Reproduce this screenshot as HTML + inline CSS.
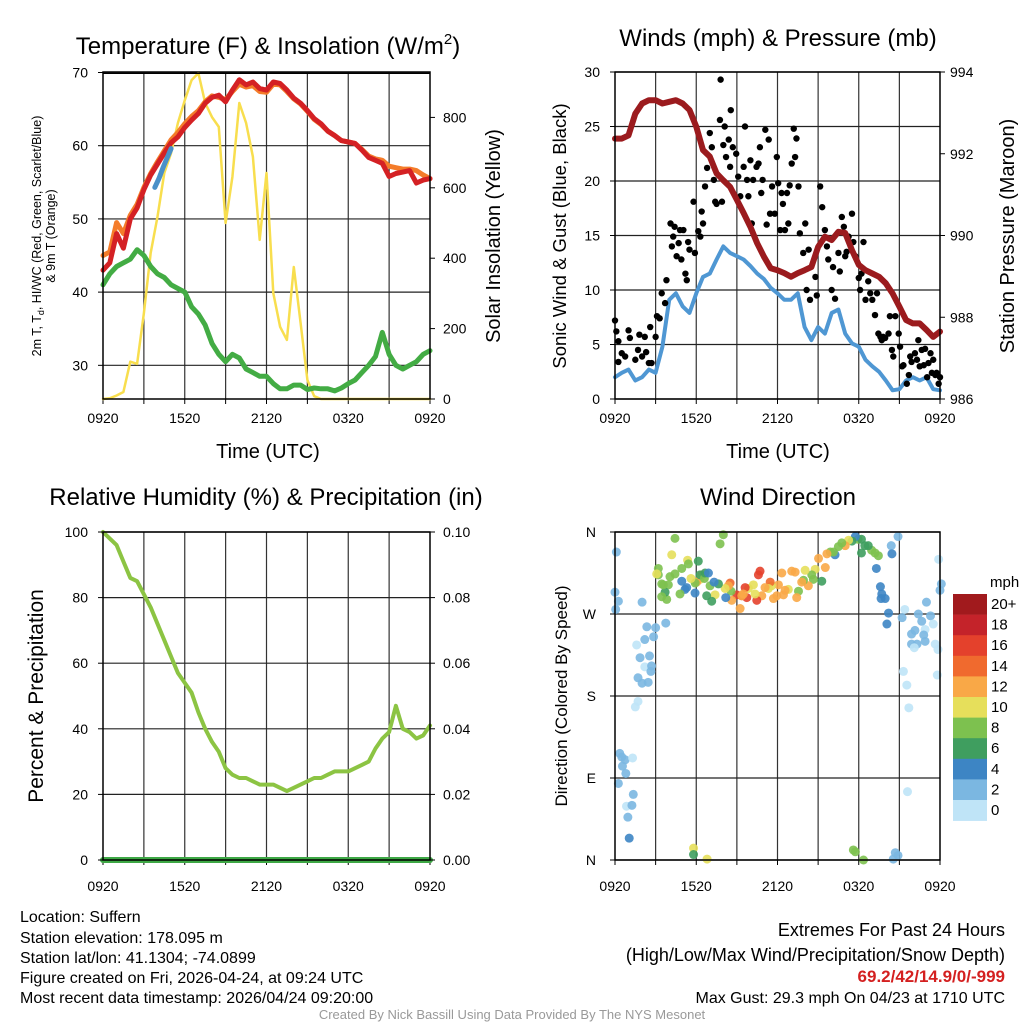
<!DOCTYPE html>
<html><head><meta charset="utf-8"><style>
html,body{margin:0;padding:0;background:#fff;}
svg{display:block;font-family:"Liberation Sans",sans-serif;}
</style></head><body>
<svg id="fig" width="1024" height="1024" viewBox="0 0 1024 1024" xmlns="http://www.w3.org/2000/svg">
<rect width="1024" height="1024" fill="#fff"/>
<g id="layer"></g>
<text x="268" y="54" font-size="24" text-anchor="middle">Temperature (F) &amp; Insolation (W/m<tspan font-size="15" dy="-10">2</tspan><tspan dy="10">)</tspan></text>
<text x="778" y="46" font-size="24" text-anchor="middle">Winds (mph) &amp; Pressure (mb)</text>
<text x="266" y="505" font-size="24" text-anchor="middle">Relative Humidity (%) &amp; Precipitation (in)</text>
<text x="778" y="505" font-size="24" text-anchor="middle">Wind Direction</text>
<text x="268" y="458" font-size="20" text-anchor="middle">Time (UTC)</text>
<text x="778" y="458" font-size="20" text-anchor="middle">Time (UTC)</text>
<g font-size="12.5" text-anchor="middle">
<text transform="translate(41,236) rotate(-90)">2m T, T<tspan font-size="9" dy="3">d</tspan><tspan dy="-3">, HI/WC (Red, Green, Scarlet/Blue)</tspan></text>
<text transform="translate(55,236) rotate(-90)">&amp; 9m T (Orange)</text>
</g>
<text transform="translate(500,236) rotate(-90)" font-size="20" text-anchor="middle">Solar Insolation (Yellow)</text>
<text transform="translate(566,236) rotate(-90)" font-size="18.5" text-anchor="middle">Sonic Wind &amp; Gust (Blue, Black)</text>
<text transform="translate(1014,236) rotate(-90)" font-size="20" text-anchor="middle">Station Pressure (Maroon)</text>
<text transform="translate(43,696) rotate(-90)" font-size="21" text-anchor="middle">Percent &amp; Precipitation</text>
<text transform="translate(567,696) rotate(-90)" font-size="17" text-anchor="middle">Direction (Colored By Speed)</text>
<text x="990" y="587" font-size="15">mph</text>
<g font-size="16">
<text x="20" y="922">Location: Suffern</text>
<text x="20" y="943">Station elevation: 178.095 m</text>
<text x="20" y="963">Station lat/lon: 41.1304; -74.0899</text>
<text x="20" y="983">Figure created on Fri, 2026-04-24, at 09:24 UTC</text>
<text x="20" y="1003">Most recent data timestamp: 2026/04/24 09:20:00</text>
</g>
<g font-size="18" text-anchor="end">
<text x="1005" y="936">Extremes For Past 24 Hours</text>
<text x="1005" y="961">(High/Low/Max Wind/Precipitation/Snow Depth)</text>
<text x="1005" y="982" fill="#d42020" font-weight="bold" font-size="17">69.2/42/14.9/0/-999</text>
<text x="1005" y="1003" font-size="16">Max Gust: 29.3 mph On 04/23 at 1710 UTC</text>
</g>
<text x="512" y="1019" font-size="13" fill="#999" text-anchor="middle">Created By Nick Bassill Using Data Provided By The NYS Mesonet</text>
</svg>
<script>
// ---- data (hours since 0920 UTC, half-hour steps) ----
const hours = [0,0.5,1,1.5,2,2.5,3,3.5,4,4.5,5,5.5,6,6.5,7,7.5,8,8.5,9,9.5,10,10.5,11,11.5,12,12.5,13,13.5,14,14.5,15,15.5,16,16.5,17,17.5,18,18.5,19,19.5,20,20.5,21,21.5,22,22.5,23,23.5,24];
const xTickLabels = ["0920","1520","2120","0320","0920"];
const tempF = [43,44,48,46,50,51.5,54,56,57.5,59,60.4,61.2,62.5,63.5,64.4,65.8,66.6,66.9,66,67.6,69,68.3,68.7,67.8,67.6,68.7,68.5,67.6,66.5,65.8,64.8,63.7,63,62,61.4,60.7,60.5,60.3,59.4,58.4,58,57.6,55.8,56.2,56.4,56.6,54.9,55.3,55.5];
const temp9mF = [45,45.5,49.5,48,50.5,52,54.3,56.2,57.8,59.3,60.8,61.8,63,64,64.8,66,66.8,66.6,66.3,67.4,68.4,68,68.2,67.4,67.3,68.4,68.3,67.4,66.4,65.7,64.7,63.6,62.9,62,61.4,60.7,60.5,60.3,59.5,58.6,58.2,58,57.2,57,56.8,56.8,56.6,56,55.5];
const blueHours = [3.8,4.1,4.4,4.7,5.0];
const blueTemp = [54.3,55.5,57,58.3,59.6];
const dewF = [41,42.5,43.5,44,44.5,45.8,45,43.5,42.5,42,41,40.5,40,38,37,35.5,33,31.5,30.5,31.5,31,29.5,29,28.5,28.5,27.5,26.8,26.8,27.3,27.3,26.7,26.9,26.8,26.8,26.5,26.9,27.5,28,29,30,31.2,34.5,31.5,30,29.5,30,30.5,31.5,32];
const solar = [0,2,10,20,106,100,244,415,518,642,699,784,849,906,926,841,801,773,500,631,841,784,688,452,642,301,205,168,375,216,54,8,0,0,0,0,0,0,0,0,0,0,0,0,0,0,0,0,0];
const tempTicks = [30,40,50,60,70];
const solarTicks = [0,200,400,600,800];
const windMph = [2.0,2.4,2.7,1.7,2.0,2.7,2.4,4.8,9.1,9.7,8.5,7.9,9.7,11.2,11.5,12.8,14,13.4,13.1,12.8,12.2,11.5,11,10.2,9.7,9.1,9.1,9.7,6.6,5.4,6.6,6.0,7.9,8.2,6.0,5.1,4.8,3.6,3.0,2.5,1.7,0.8,0.9,1.7,2.0,1.7,2.0,0.9,0.8];
const pressureMb = [992.37,992.37,992.45,992.98,993.23,993.31,993.31,993.23,993.27,993.31,993.23,993.07,992.66,992.09,991.93,991.52,991.35,991.19,990.87,990.55,990.21,989.81,989.48,989.2,989.15,989.08,988.99,989.08,989.15,989.23,989.72,989.97,989.89,990.09,990.06,989.64,989.28,989.15,989.07,988.99,988.83,988.58,988.26,987.93,987.85,987.85,987.69,987.52,987.65];
const gustHours = [0,0.1,0.25,0.25,0.5,0.75,1,1.1,1.5,1.7,1.8,2,2.2,2.3,2.5,2.6,2.7,3,3.1,3.3,3.45,3.7,3.8,4.1,4.2,4.3,4.4,4.55,4.7,4.8,4.9,5.05,5.2,5.3,5.4,5.5,5.8,5.9,6.15,6.3,6.4,6.5,6.65,6.8,7,7.15,7.3,7.4,7.5,7.75,7.8,7.9,8,8.1,8.2,8.4,8.5,8.55,8.7,8.95,9.1,9.25,9.5,9.6,9.75,9.85,10,10.1,10.2,10.45,10.6,10.7,10.8,10.9,11.1,11.2,11.35,11.45,11.6,11.8,11.95,12.05,12.2,12.3,12.4,12.55,12.7,12.8,12.9,13.05,13.2,13.3,13.4,13.55,13.65,13.9,14.05,14.15,14.3,14.4,14.8,14.9,15.15,15.3,15.5,15.65,15.75,16,16.1,16.25,16.5,16.6,16.75,16.9,17,17.1,17.25,17.5,17.6,17.75,18,18.1,18.2,18.35,18.5,18.7,18.85,19,19.2,19.35,19.45,19.6,19.7,19.8,19.95,20.2,20.3,20.45,20.55,20.7,20.95,21.05,21.2,21.3,21.55,21.7,21.8,21.9,22.15,22.3,22.4,22.5,22.65,22.8,22.9,23.05,23.15,23.3,23.4,23.5,23.65,23.75,23.9,24];
const gustMph = [7.2,6.2,5.3,3.4,4.2,3.9,6.3,5.6,3.6,4.5,5.9,3.9,5.7,4.3,3.3,6.6,3.3,5.7,7.6,7.4,9.7,8.8,10.9,16.1,14,14.9,15.8,13.1,14.3,15.5,12.8,15.5,11.5,10.9,14.4,13.7,18.1,13.4,15.4,14.9,17.2,16.1,19.5,21.2,24.4,23.1,20.1,18.1,17.9,25.6,29.3,18.1,23.3,25,22.2,23.8,21.3,26.5,23.1,22.5,20.4,18.6,21.3,25,20.1,18.6,21.9,16.1,20.1,21.3,21.6,23.1,18.9,20.1,24.7,16,23.8,17,19.5,17,22.2,19.8,15.5,18.9,17.9,15.5,18.9,16.1,19.6,21.6,24.8,22.2,23.9,19.5,15.2,13.4,16.1,10,13.7,9.1,11.2,9.5,19.5,17.6,15.5,14,12.8,10,12.1,9.2,13.4,11.7,16.7,15.8,13.1,13.5,14.9,17,14.4,13.1,11.1,10,11.5,14.4,9.1,10.8,9.7,9.1,7.7,9.7,6,5.7,5.4,5.7,5.6,6,7.6,4.5,3.9,7.6,6,4.8,3,3.1,1.4,2.2,3.9,3.4,4.2,3.6,5.4,3,4.5,3.1,4.6,2,3.3,4.2,2.4,3.6,2.2,2.4,1.4,2];
const windTicks = [0,5,10,15,20,25,30];
const pressTicks = [986,988,990,992,994];
const rhPct = [100,98,96,91,86,85,81,77,72,67,62,57,54,51,45,40,36,33,28,26,25,25,24,23,23,23,22,21,22,23,24,25,25,26,27,27,27,28,29,30,34,37,39,47,40,39,37,38,41];
const precipIn = [0,0,0,0,0,0,0,0,0,0,0,0,0,0,0,0,0,0,0,0,0,0,0,0,0,0,0,0,0,0,0,0,0,0,0,0,0,0,0,0,0,0,0,0,0,0,0,0,0];
const rhTicks = [0,20,40,60,80,100];
const precipTicks = ["0.00","0.02","0.04","0.06","0.08","0.10"];
const dirHours = [0.1,0,0.25,0.05,2,2.35,3,3.75,1.6,2.2,2.85,1.85,2.55,2.2,2.7,2.65,1.7,2,2.45,1.7,1.5,0.35,0.5,0.75,0.55,0.8,1.3,0.25,1.35,0.85,1.25,0.95,1.05,5.8,5.8,6.8,17.6,17.75,18.35,20.7,20.9,20.55,21.6,21.7,21.55,21.3,21.9,22.3,22.1,22.9,23.65,23.85,23.8,22.4,21.4,21.2,23.0,23.3,22.65,22.15,22.9,23.5,23.9,24.1,24.0,22.8,21.9,20.9,20.4,20.45,20.2,20.08,19.6,19.7,19.95,19.65,19.3,19.45,19.2,18.95,18.7,18.2,17.95,18.45,18.2,17.75,17.5,17.25,17,16.75,16.25,16.13,16.5,15.9,15.65,15.53,15.27,15.03,14.65,14.78,14.53,14.28,14.04,13.92,13.79,13.55,13.42,13.3,13.05,12.8,12.56,12.44,12.32,12.07,11.95,11.7,11.56,11.46,11.33,11.08,10.84,10.71,10.59,10.47,10.34,10.22,9.85,9.73,9.61,9.36,9.24,8.99,9.48,9.36,8.62,8.57,8.5,8.37,8.13,8.0,7.76,7.64,7.39,7.14,7.02,6.77,6.4,6.28,6.03,6.28,6.15,5.92,6.6,6.65,6.9,7.32,8.18,5.91,5.17,5.29,5.61,5.36,4.93,4.8,4.43,4.19,4.06,3.82,3.94,3.7,3.45,3.2,3.2,3.08,3.45,3.57,4.43,4.93,5.42];
const dirDeg = [338,294,284,275,283,256,255,260,236,242,245,222,224,212,213,207,200,194,195,174,168,117,113,110,103,95,112,84,72,59,60,47,24,13,6,1,11,9,0,8,5,1,75,167,192,207,237,237,233,240,237,231,203,270,275,266,283,268,262,252,253,259,330,303,296,247,248,355,345,336,271,259,300,292,287,287,320,334,337,340,345,337,352,345,352,355,350,351,345,348,335,338,344,338,336,321,306,331,308,319,313,301,318,307,305,295,288,316,317,297,296,291,315,302,290,287,301,305,298,299,290,317,313,285,292,302,298,288,299,290,276,291,292,290,285,295,304,301,298,357,347,303,291,284,301,290,313,308,305,313,328,304,309,315,315,305,288,293,297,299,309,329,306,292,353,335,311,286,302,294,303,313,320,314,289,302,314,320,325,322];
const dirSpeed = [3,3,3,3,3,3,3,3,1,3,3,3,3,1,3,3,3,3,3,1,1,3,3,3,3,3,1,3,3,1,3,3,5,11,7,11,9,9,9,3,3,3,1,1,1,1,3,3,1,3,1,1,1,3,1,3,3,3,3,3,1,1,1,3,3,3,3,3,3,5,5,5,5,5,5,5,5,9,9,9,7,7,9,7,7,5,7,11,13,9,5,9,9,9,13,13,7,13,9,11,9,13,11,9,13,9,13,13,13,11,13,13,13,13,13,13,11,15,11,13,13,17,17,17,11,11,11,17,17,17,13,17,13,13,13,9,15,13,11,9,9,7,11,7,9,7,13,11,13,7,7,9,9,7,5,5,5,5,5,5,11,11,5,9,9,11,9,9,9,7,9,9,9,11,9,9,9,9,9,9];
const cbLabels = ["20+","18","16","14","12","10","8","6","4","2","0"];
const cbColors = ["#a11a1d","#c4232a","#e4412c","#f06a2e","#f9a847","#e6df5b","#7dc14f","#3f9e5f","#3d85c4","#7bb7e1","#bfe4f7"];

// ---- drawing ----
const NS="http://www.w3.org/2000/svg";
const layer=document.getElementById('layer');
function mk(tag,attrs,parent){const e=document.createElementNS(NS,tag);for(const k in attrs)e.setAttribute(k,attrs[k]);(parent||layer).appendChild(e);return e;}
function lin(d0,d1,r0,r1){return v=>r0+(v-d0)*(r1-r0)/(d1-d0);}
function pathD(xs,ys,fx,fy){return xs.map((x,i)=>(i?'L':'M')+fx(x).toFixed(1)+','+fy(ys[i]).toFixed(1)).join('');}

function frame(L,T,R,B,name,yGrid,xLabY){
  const g=mk('g',{});
  
  
  const fx=lin(0,24,L,R);
  for(let h=3;h<24;h+=3){const l=mk('line',{x1:fx(h),x2:fx(h),y1:T,y2:B,stroke:'#333','stroke-width':1.2},g);
    
    }
  for(let h=0;h<=24;h+=3){mk('line',{x1:fx(h),x2:fx(h),y1:B,y2:B+5,stroke:'#000','stroke-width':1},g);}
  yGrid.forEach(y=>{const l=mk('line',{x1:L,x2:R,y1:y,y2:y,stroke:'#222','stroke-width':1.2},g);
    
    });
  xTickLabels.forEach((s,i)=>{const t=mk('text',{x:fx(i*6),y:xLabY,'font-size':14,'text-anchor':'middle'},g);t.textContent=s;
    
    });
  return {fx,g};
}
function border(L,T,R,B,name){const r=mk('rect',{x:L,y:T,width:R-L,height:B-T,fill:'none',stroke:'#000','stroke-width':1.5});
  
  }
function yTicks(vals,labels,fy,x,anchor,tx0,tx1,name){
  vals.forEach((v,i)=>{mk('line',{x1:tx0,x2:tx1,y1:fy(v),y2:fy(v),stroke:'#000','stroke-width':1});
    const t=mk('text',{x:x,y:fy(v)+5,'font-size':14,'text-anchor':anchor});t.textContent=labels[i];
    
    });
}
function line(xs,ys,fx,fy,color,w,name){const p=mk('path',{d:pathD(xs,ys,fx,fy),fill:'none',stroke:color,'stroke-width':w,'stroke-linejoin':'round','stroke-linecap':'round'});
  
  return p;}

// Panel 1
{const L=103,T=72,R=430,B=399;
 const fy=lin(25.4,70,B,72.5), fs=lin(0,929,B,T);
 const {fx}=frame(L,T,R,B,'temperature',tempTicks.map(fy),423);
 line(hours,solar,fx,fs,'#f8de4e',2.5,'insolation-line');
 line(hours,temp9mF,fx,fy,'#f47c2a',5,'temp-9m-line');
 line(hours,tempF,fx,fy,'#d42124',5,'temp-2m-line');
 line(blueHours,blueTemp,fx,fy,'#4a90c8',5,'heat-index-line');
 line(hours,dewF,fx,fy,'#43ac44',5,'dewpoint-line');
 border(L,T,R,B,'temperature');
 mk('line',{x1:L,x2:R,y1:73.5,y2:73.5,stroke:'#000','stroke-width':1});
 yTicks(tempTicks,tempTicks.map(String),fy,88,'end',L-5,L,'temp-y-tick-label');
 yTicks(solarTicks,solarTicks.map(String),fs,443,'start',R,R+5,'solar-y-tick-label');}
// Panel 2
{const L=615,T=72,R=940,B=399;
 const fy=lin(0,30,B,T), fp=lin(986,994,B,T);
 const {fx}=frame(L,T,R,B,'winds',windTicks.map(fy),423);
 line(hours,windMph,fx,fy,'#4f97d3',4,'sonic-wind-line');
 gustHours.forEach((h,i)=>{const c=mk('circle',{cx:fx(h),cy:fy(gustMph[i]),r:3.2,fill:'#000'});
   
   });
 line(hours,pressureMb,fx,fp,'#9b1b1e',6,'pressure-line');
 border(L,T,R,B,'winds');
 yTicks(windTicks,windTicks.map(String),fy,600,'end',L-5,L,'wind-y-tick-label');
 yTicks(pressTicks,pressTicks.map(String),fp,950,'start',R,R+5,'pressure-y-tick-label');}
// Panel 3
{const L=103,T=532,R=430,B=860;
 const fy=lin(0,100,B,T), fpr=lin(0,0.1,B,T);
 const {fx}=frame(L,T,R,B,'humidity',rhTicks.map(fy),891);
 line(hours,rhPct,fx,fy,'#8cc443',4,'humidity-line');
 line(hours,precipIn,fx,fpr,'#3ea845',6,'precipitation-line');
 border(L,T,R,B,'humidity');
 yTicks(rhTicks,rhTicks.map(String),fy,88,'end',L-5,L,'humidity-y-tick-label');
 yTicks(precipTicks.map(Number),precipTicks,fpr,443,'start',R,R+5,'precip-y-tick-label');}
// Panel 4
{const L=615,T=532,R=940,B=860;
 const fy=lin(0,360,B,T);
 const dTicks=[0,90,180,270,360], dLabels=["N","E","S","W","N"];
 const {fx}=frame(L,T,R,B,'direction',dTicks.map(fy),891);
 dirHours.forEach((h,i)=>{const bin=Math.min(10,Math.floor(dirSpeed[i]/2));
   const c=mk('circle',{cx:fx(h),cy:fy(dirDeg[i]),r:4.5,fill:cbColors[10-bin],'fill-opacity':0.9});
   
   });
 border(L,T,R,B,'direction');
 yTicks(dTicks,dLabels,fy,596,'end',L-5,L,'direction-y-tick-label');
 const cbT=594,cbH=20.6;
 cbLabels.forEach((s,i)=>{const r=mk('rect',{x:953,y:cbT+i*cbH,width:34,height:cbH+0.3,fill:cbColors[i]});
   
   
   const t=mk('text',{x:991,y:cbT+i*cbH+15,'font-size':15});t.textContent=s;
   
   });}
</script>
</body></html>
